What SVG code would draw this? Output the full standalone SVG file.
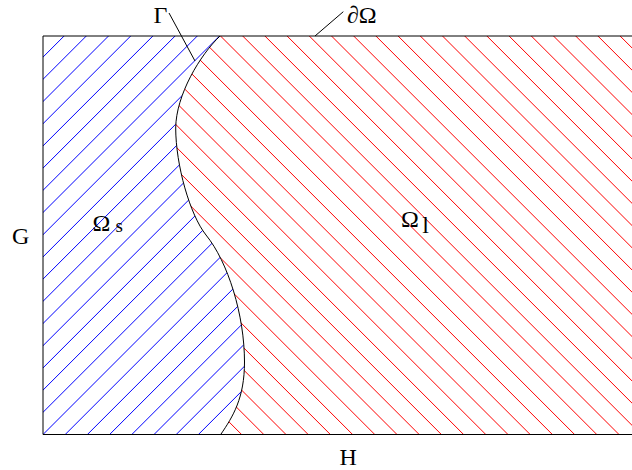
<svg xmlns="http://www.w3.org/2000/svg" width="632" height="470" viewBox="0 0 632 470">
<style>
text{font-family:"Liberation Serif","Times New Roman",serif;fill:#000}
.hatch{stroke-width:1;fill:none}
.line{stroke:#000;stroke-width:1;fill:none}
</style>
<defs>
<clipPath id="clipS">
<path d="M43,36 L220,36 C200,55 176,95 175.7,128 C175.7,165 190,215 206,235 C228,262 244.5,315 244.5,362 C244.5,398 233,416.5 220.7,434.5 L43,434.5 Z"/>
</clipPath>
<clipPath id="clipL">
<path clip-rule="evenodd" d="M43,36 H660 V434.5 H43 Z M43,36 L220,36 C200,55 176,95 175.7,128 C175.7,165 190,215 206,235 C228,262 244.5,315 244.5,362 C244.5,398 233,416.5 220.7,434.5 L43,434.5 Z"/>
</clipPath>
</defs>
<g id="region-solid" clip-path="url(#clipS)">
<path class="hatch" stroke="#0000ff" fill="none" d="M42.9,35 l-400,400 M65.1,35 l-400,400 M87.3,35 l-400,400 M109.5,35 l-400,400 M131.7,35 l-400,400 M153.9,35 l-400,400 M176.1,35 l-400,400 M198.3,35 l-400,400 M220.5,35 l-400,400 M242.7,35 l-400,400 M264.9,35 l-400,400 M287.1,35 l-400,400 M309.3,35 l-400,400 M331.5,35 l-400,400 M353.7,35 l-400,400 M375.9,35 l-400,400 M398.1,35 l-400,400 M420.3,35 l-400,400 M442.5,35 l-400,400 M464.7,35 l-400,400 M486.9,35 l-400,400 M509.1,35 l-400,400 M531.3,35 l-400,400 M553.5,35 l-400,400 M575.7,35 l-400,400 M597.9,35 l-400,400 M620.1,35 l-400,400 M642.3,35 l-400,400"/>
</g>
<g id="region-liquid" clip-path="url(#clipL)">
<path class="hatch" stroke="#ff0000" fill="none" d="M641.3,35 l400,400 M619.1,35 l400,400 M596.9,35 l400,400 M574.7,35 l400,400 M552.5,35 l400,400 M530.3,35 l400,400 M508.1,35 l400,400 M485.9,35 l400,400 M463.7,35 l400,400 M441.5,35 l400,400 M419.3,35 l400,400 M397.1,35 l400,400 M374.9,35 l400,400 M352.7,35 l400,400 M330.5,35 l400,400 M308.3,35 l400,400 M286.1,35 l400,400 M263.9,35 l400,400 M241.7,35 l400,400 M219.5,35 l400,400 M197.3,35 l400,400 M175.1,35 l400,400 M152.9,35 l400,400 M130.7,35 l400,400 M108.5,35 l400,400 M86.3,35 l400,400 M64.1,35 l400,400 M41.9,35 l400,400 M19.7,35 l400,400 M-2.5,35 l400,400 M-24.7,35 l400,400 M-46.9,35 l400,400 M-69.1,35 l400,400 M-91.3,35 l400,400 M-113.5,35 l400,400 M-135.7,35 l400,400 M-157.9,35 l400,400 M-180.1,35 l400,400 M-202.3,35 l400,400"/>
</g>
<g id="boundary">
<path class="line" stroke="#000" fill="none" d="M43,36 H660"/>
<path class="line" stroke="#000" fill="none" d="M43,36 V434.5"/>
<path class="line" stroke="#000" fill="none" d="M43,434.5 H660"/>
</g>
<g id="interface">
<path class="line" stroke="#000" fill="none" d="M220,36 C200,55 176,95 175.7,128 C175.7,165 190,215 206,235 C228,262 244.5,315 244.5,362 C244.5,398 233,416.5 220.7,434.5"/>
</g>
<g id="connectors">
<path class="line" stroke="#000" fill="none" d="M169,13 L195,61"/>
<path class="line" stroke="#000" fill="none" d="M343.3,11.7 L315,36"/>
</g>
<g id="labels" font-family="Liberation Serif, Times New Roman, serif" fill="#000">
<text x="153.5" y="23" font-size="24">Γ</text>
<text x="347" y="23" font-size="24">∂Ω</text>
<text x="12" y="244" font-size="24">G</text>
<text x="339.5" y="465" font-size="24">H</text>
<text x="92.5" y="230.7" font-size="24">Ω</text>
<text x="115.5" y="231.5" font-size="19">s</text>
<text x="401" y="226.7" font-size="24">Ω</text>
<text x="422.3" y="233.3" font-size="24">l</text>
</g>
</svg>
